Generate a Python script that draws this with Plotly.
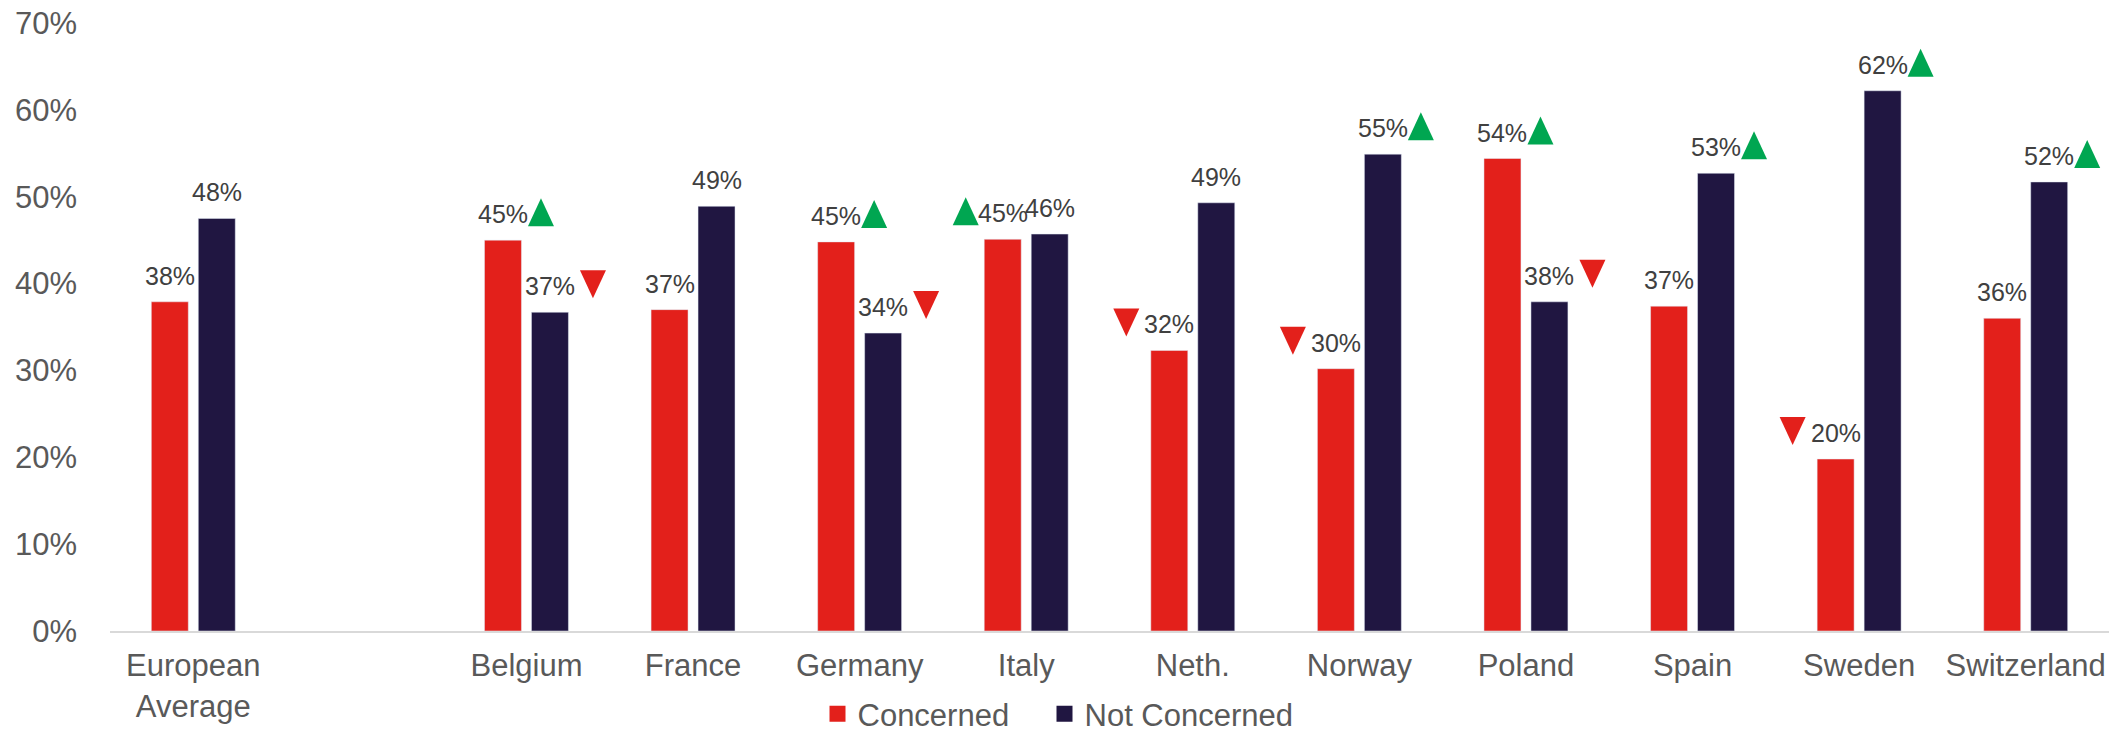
import plotly.graph_objects as go

categories = ["European<br>Average", "", "Belgium", "France", "Germany", "Italy",
              "Neth.", "Norway", "Poland", "Spain", "Sweden", "Switzerland"]
concerned = [37.9, None, 45.0, 37.0, 44.8, 45.1, 32.3, 30.2, 54.4, 37.4, 19.8, 36.0]
not_concerned = [47.5, None, 36.7, 48.9, 34.3, 45.7, 49.3, 54.9, 37.9, 52.7, 62.2, 51.7]
# change indicators vs. previous wave: "up", "down" or None
concerned_change = [None, None, "up", None, "up", "up", "down", "down", "up", None, "down", None]
not_concerned_change = [None, None, "down", None, "down", None, None, "up", "down", "up", "up", "up"]
# side of the label on which the indicator sits
concerned_side = [None, None, "R", None, "R", "L", "L", "L", "R", None, "L", None]
not_concerned_side = [None, None, "R", None, "R", None, None, "R", "R", "R", "R", "R"]

series_names = ["Concerned", "Not Concerned"]
RED = "#E3201B"
NAVY = "#201641"
GREEN = "#00A651"

x = list(range(len(categories)))
yvals_c = [v / 100 if v is not None else None for v in concerned]
yvals_n = [v / 100 if v is not None else None for v in not_concerned]

fig = go.Figure()
fig.add_trace(go.Bar(x=x, y=yvals_c, name=series_names[0], marker_color=RED,
                     showlegend=False, hoverinfo="skip"))
fig.add_trace(go.Bar(x=x, y=yvals_n, name=series_names[1], marker_color=NAVY,
                     showlegend=False, hoverinfo="skip"))
# legend entries with larger square symbols
for k, (nm, col) in enumerate(zip(series_names, [RED, NAVY])):
    fig.add_trace(go.Scatter(x=[None], y=[None], mode="markers", name=nm,
                             legendwidth=182 if k == 0 else None,
                             marker=dict(symbol="square", size=16, color=col)))

BARGAP = 0.436
GROUPGAP = 0.213
off = (1 - BARGAP) / 4

annotations = []
shapes = []
TW, TH = 13, 14
for vals, chg, side, sgn in [(yvals_c, concerned_change, concerned_side, -1),
                             (yvals_n, not_concerned_change, not_concerned_side, 1)]:
    for i, v in enumerate(vals):
        if v is None:
            continue
        xc = x[i] + sgn * off
        annotations.append(dict(x=xc, y=v, xref="x", yref="y", text=f"{round(v*100)}%",
                                showarrow=False, yanchor="bottom", yshift=10,
                                font=dict(family="Liberation Sans, Arial", size=25, color="#404040")))
        c = chg[i]
        if c:
            if c == "up":
                dx = 38 if side[i] == "R" else -37
                dy = 28
                path = f"M{dx-TW},{dy-TH} L{dx+TW},{dy-TH} L{dx},{dy+TH} Z"
                col = GREEN
            else:
                dx = 43 if side[i] == "R" else -43
                dy = 28
                path = f"M{dx-TW},{dy+TH} L{dx+TW},{dy+TH} L{dx},{dy-TH} Z"
                col = RED
            shapes.append(dict(type="path", xref="x", yref="y", xsizemode="pixel",
                               ysizemode="pixel", xanchor=xc, yanchor=v, path=path,
                               fillcolor=col, line=dict(width=0)))

fig.update_layout(
    width=2116, height=734,
    margin=dict(l=110, r=7, t=23, b=103, autoexpand=False),
    paper_bgcolor="white", plot_bgcolor="white",
    barmode="group", bargap=BARGAP, bargroupgap=GROUPGAP,
    font=dict(family="Liberation Sans, Arial", color="#595959", size=31),
    xaxis=dict(tickmode="array", tickvals=x, ticktext=categories, range=[-0.5, len(categories) - 0.5],
               showgrid=False, zeroline=False, showline=True, linecolor="#D9D9D9", linewidth=2,
               ticks="", ticklabelstandoff=6, tickfont=dict(size=31, color="#595959"), automargin=False),
    yaxis=dict(range=[0, 0.7], tickvals=[0, 0.1, 0.2, 0.3, 0.4, 0.5, 0.6, 0.7], tickformat=".0%",
               showgrid=False, zeroline=False, showline=False, ticks="",
               ticklabelstandoff=32, tickfont=dict(size=31, color="#595959"), automargin=False),
    legend=dict(orientation="h", xref="container", yref="container", x=0.5, xanchor="center",
                y=0.027, yanchor="middle", font=dict(size=31, color="#595959"),
                bgcolor="rgba(0,0,0,0)"),
    annotations=annotations,
    shapes=shapes,
)

fig.write_html("out.html", config={"displayModeBar": False},
               post_script="document.body.style.margin='0';document.body.style.overflow='hidden';")
